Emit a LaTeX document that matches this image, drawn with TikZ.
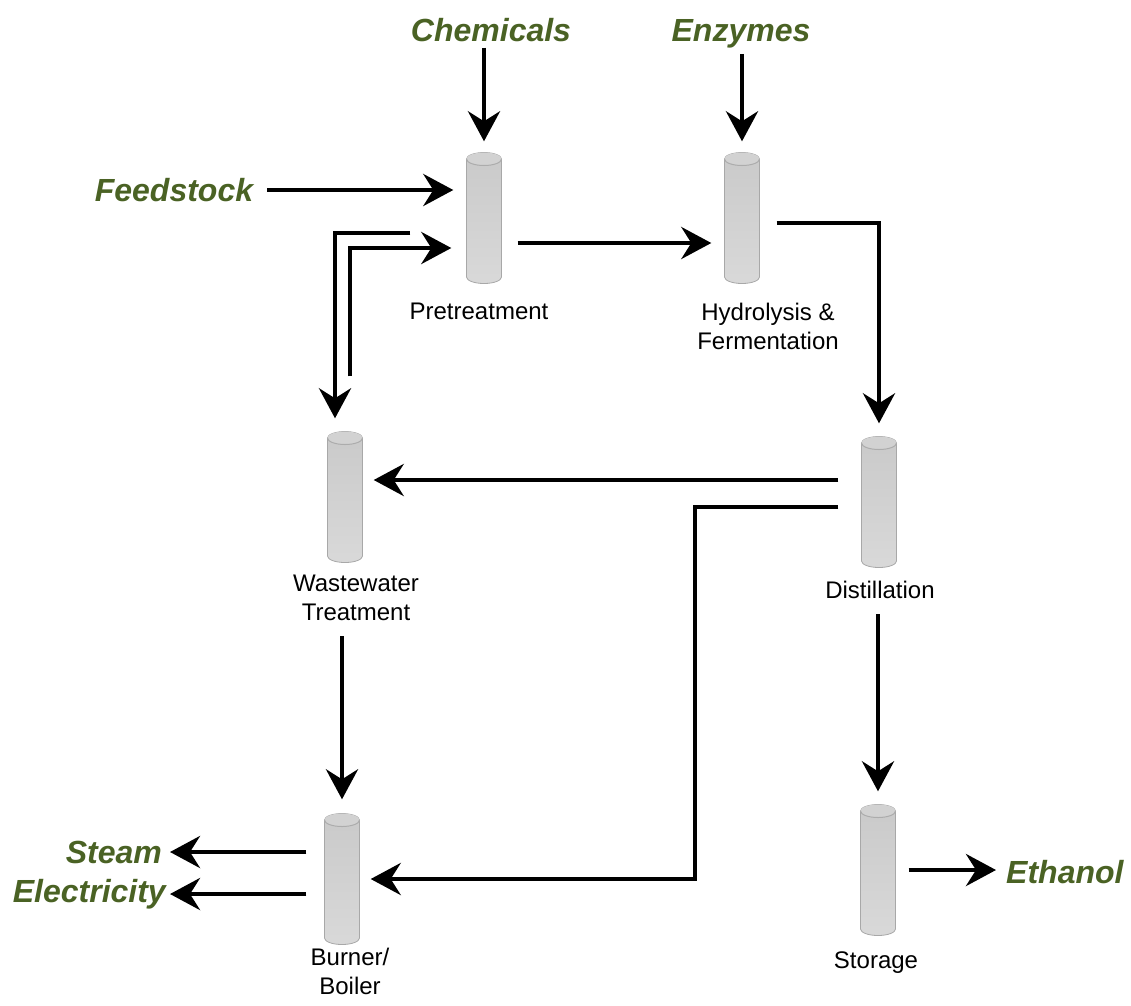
\documentclass[tikz,border=0pt]{standalone}
\usepackage{fontspec}
\setmainfont{Liberation Sans}
\usetikzlibrary{arrows.meta,calc}
\definecolor{cFeed}{HTML}{4A6224}
\definecolor{cTank}{HTML}{A8A8A8}

\begin{document}
\begin{tikzpicture}[
  x=1pt,y=-1pt,
  tank/.style={rectangle,minimum width=37pt,minimum height=133pt,inner sep=0pt,
    path picture={
      \shade[top color=gray!42,middle color=gray!10,bottom color=gray!30,draw=cTank,line width=0.8pt]
        ([shift={(1pt,-7.5pt)}]path picture bounding box.north west)
        -- ([shift={(1pt,7.5pt)}]path picture bounding box.south west)
        arc[start angle=180,end angle=360,x radius=17.5pt,y radius=6.5pt]
        -- ([shift={(-1pt,-7.5pt)}]path picture bounding box.north east)
        arc[start angle=0,end angle=180,x radius=17.5pt,y radius=6.5pt] -- cycle;
      \fill[gray!35] ([yshift=-7.5pt]path picture bounding box.north)
        ellipse[x radius=17.5pt,y radius=6.5pt];
      \draw[gray!65,line width=1pt] ([yshift=-7.5pt]path picture bounding box.north)
        ++(-17.5pt,0) arc[start angle=180,end angle=360,x radius=17.5pt,y radius=6.5pt];
    }},
  lbl/.style={font=\fontsize{24}{29}\selectfont,align=center,inner sep=0pt},
  flow/.style={font=\fontsize{32}{37}\selectfont\bfseries\itshape,text=cFeed,inner sep=0pt},
  ar/.style={-{Stealth[length=30pt,width=32pt,inset=10pt]},line width=4.5pt,draw=black}
]
\useasboundingbox (0,0) rectangle (1131,1005);

%======================= UNITS =======================
\node[tank] (pre)  at (484,218) {};
\node[tank] (hyd)  at (742,218) {};
\node[tank] (ww)   at (345,497) {};
\node[tank] (dist) at (879,502) {};
\node[tank] (boil) at (342,879) {};
\node[tank] (sto)  at (878,870) {};

\node[lbl] (prel)  at (479,311) {Pretreatment};
\node[lbl] (hydl)  at (768,326) {Hydrolysis \&\\Fermentation};
\node[lbl] (wwl)   at (356,598) {Wastewater\\Treatment};
\node[lbl] (distl) at (880,590) {Distillation};
\node[lbl] (boill) at (350,971) {Burner/\\Boiler};
\node[lbl] (stol)  at (876,963) {Storage};

%======================= INPUTS / OUTPUTS =======================
\node[flow,anchor=base] (chem)  at (491,41)  {Chemicals};
\node[flow,anchor=base] (enz)   at (741,41)  {Enzymes};
\node[flow] (feed)  at (174,190) {Feedstock};
\node[flow,anchor=east] (steam) at (162,852) {Steam};
\node[flow,anchor=east] (elec)  at (166,894) {Electricity};
\node[flow,anchor=west] (eth)   at (1006,872) {Ethanol};

\coordinate (jog) at (695,879);

%======================= MAIN LINE =======================
\draw[ar,shorten <=6pt,shorten >=10pt] (chem.south -| pre) -- (pre.north);
\draw[ar,shorten <=6pt,shorten >=10pt] (enz.south -| hyd) -- (hyd.north);
\draw[ar,shorten <=14pt,shorten >=12pt] (feed.east) -- (feed -| pre.west);
\draw[ar,shorten <=15pt,shorten >=12pt] ([yshift=-25pt]pre.east) -- ([yshift=-25pt]hyd.west);
\draw[ar,shorten <=16pt,shorten >=12pt] ([yshift=-5pt]hyd.east) -| (dist.north);
\draw[ar,shorten <=15pt,shorten >=12pt] (sto.north |- distl.south) -- (sto.north);
\draw[ar,shorten <=12pt,shorten >=10pt] (sto.east) -- (sto.east -| eth.west);

%======================= RECYCLE =======================
\draw[ar,shorten >=12pt] ([xshift=-55pt,yshift=-15pt]pre.west) -| ([xshift=-10pt]ww.north);
\draw[ar,shorten >=14pt] ([xshift=5pt,yshift=54pt]ww.north) |- ([yshift=-30pt]pre.west);
\draw[ar,shorten <=22pt,shorten >=10pt] ([yshift=22pt]dist.west) -- ([yshift=22pt]dist.west -| ww.east);
\draw[ar,shorten <=22pt,shorten >=10pt] ([yshift=-5pt]dist.west) -| (jog) -- (boil.east);
\draw[ar,shorten <=15pt,shorten >=13pt] (boil.north |- wwl.south) -- (boil.north);

%======================= ENERGY =======================
\draw[ar,shorten <=17pt,shorten >=8pt] ([yshift=27pt]boil.west) -- (steam.east);
\draw[ar,shorten <=17pt,shorten >=4pt] ([yshift=-15pt]boil.west) -- (elec.east);

\end{tikzpicture}
\end{document}
